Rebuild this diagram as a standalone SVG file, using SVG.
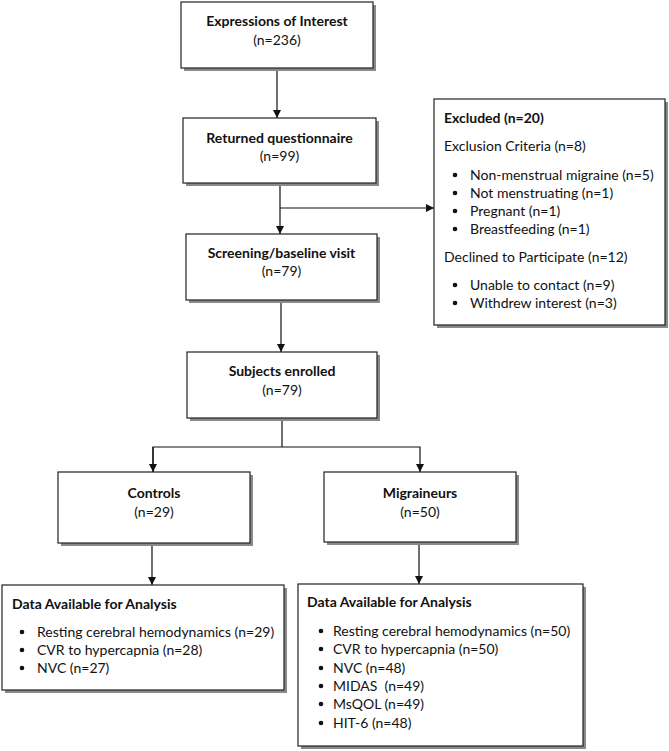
<svg xmlns="http://www.w3.org/2000/svg" width="669" height="751" viewBox="0 0 669 751">
<defs>
<marker id="arr" markerWidth="8" markerHeight="8" refX="8" refY="4" orient="auto" markerUnits="userSpaceOnUse">
<path d="M0,0 L8,4 L0,8 z" fill="#111"/>
</marker>
</defs>
<style>
.box{fill:#fff;stroke:#222;stroke-width:1.2}
.sh{fill:#8a8a8a}
text{font-family:Lato,"Open Sans","Liberation Sans",sans-serif;font-size:14px;fill:#111}
.b{font-weight:bold}
.c{text-anchor:middle}
.ln{fill:none;stroke:#111;stroke-width:1.2}
.dot{fill:#111}
</style>
<rect width="669" height="751" fill="#fff"/>
<g id="connectors">
<line class="ln" x1="277" y1="68" x2="277" y2="118" marker-end="url(#arr)"/>
<line class="ln" x1="280" y1="183" x2="280" y2="234" marker-end="url(#arr)"/>
<line class="ln" x1="280" y1="208" x2="434" y2="208" marker-end="url(#arr)"/>
<line class="ln" x1="281" y1="300" x2="281" y2="352" marker-end="url(#arr)"/>
<polyline class="ln" points="282,418 282,447"/>
<polyline class="ln" points="153,472 153,447 420,447 420,472" marker-end="url(#arr)"/>
<line class="ln" x1="153" y1="447" x2="153" y2="472" marker-end="url(#arr)"/>
<line class="ln" x1="152" y1="543" x2="152" y2="585" marker-end="url(#arr)"/>
<line class="ln" x1="419" y1="542" x2="419" y2="584" marker-end="url(#arr)"/>
</g>
<g id="n1">
<rect class="sh" x="184" y="5" width="192" height="66"/>
<rect class="box" x="181" y="2" width="192" height="66"/>
<text class="b c" x="277" y="26">Expressions of Interest</text>
<text class="c" x="277" y="45">(n=236)</text>
</g>
<g id="n2">
<rect class="sh" x="186" y="121" width="193" height="65"/>
<rect class="box" x="183" y="118" width="193" height="65"/>
<text class="b c" x="279.5" y="143">Returned questionnaire</text>
<text class="c" x="279.5" y="161">(n=99)</text>
</g>
<g id="n3">
<rect class="sh" x="189" y="237" width="191" height="66"/>
<rect class="box" x="186" y="234" width="191" height="66"/>
<text class="b c" x="281.5" y="258">Screening/baseline visit</text>
<text class="c" x="281.5" y="276">(n=79)</text>
</g>
<g id="excluded">
<rect class="sh" x="437" y="102" width="231" height="226"/>
<rect class="box" x="434" y="99" width="231" height="226"/>
<text class="b" x="444" y="123">Excluded (n=20)</text>
<text x="444" y="151">Exclusion Criteria (n=8)</text>
<circle class="dot" cx="455" cy="175" r="2.3"/>
<text x="470" y="180">Non-menstrual migraine (n=5)</text>
<circle class="dot" cx="455" cy="193" r="2.3"/>
<text x="470" y="198">Not menstruating (n=1)</text>
<circle class="dot" cx="455" cy="211" r="2.3"/>
<text x="470" y="216">Pregnant (n=1)</text>
<circle class="dot" cx="455" cy="229" r="2.3"/>
<text x="470" y="234">Breastfeeding (n=1)</text>
<text x="444" y="262">Declined to Participate (n=12)</text>
<circle class="dot" cx="455" cy="285" r="2.3"/>
<text x="470" y="290">Unable to contact (n=9)</text>
<circle class="dot" cx="455" cy="303" r="2.3"/>
<text x="470" y="308">Withdrew interest (n=3)</text>
</g>
<g id="n4">
<rect class="sh" x="190" y="355" width="190" height="66"/>
<rect class="box" x="187" y="352" width="190" height="66"/>
<text class="b c" x="282" y="376">Subjects enrolled</text>
<text class="c" x="282" y="395">(n=79)</text>
</g>
<g id="controls">
<rect class="sh" x="61" y="475" width="192" height="71"/>
<rect class="box" x="58" y="472" width="192" height="71"/>
<text class="b c" x="154" y="498">Controls</text>
<text class="c" x="154" y="517">(n=29)</text>
</g>
<g id="migraineurs">
<rect class="sh" x="327" y="475" width="192" height="70"/>
<rect class="box" x="324" y="472" width="192" height="70"/>
<text class="b c" x="420" y="498">Migraineurs</text>
<text class="c" x="420" y="517">(n=50)</text>
</g>
<g id="data-controls">
<rect class="sh" x="5" y="588" width="282" height="105"/>
<rect class="box" x="2" y="585" width="282" height="105"/>
<text class="b" x="12" y="609">Data Available for Analysis</text>
<circle class="dot" cx="22" cy="632" r="2.3"/>
<text x="37" y="637">Resting cerebral hemodynamics (n=29)</text>
<circle class="dot" cx="22" cy="650" r="2.3"/>
<text x="37" y="655">CVR to hypercapnia (n=28)</text>
<circle class="dot" cx="22" cy="668" r="2.3"/>
<text x="37" y="673">NVC (n=27)</text>
</g>
<g id="data-migraineurs">
<rect class="sh" x="301" y="587" width="285" height="162"/>
<rect class="box" x="298" y="584" width="285" height="162"/>
<text class="b" x="307" y="607">Data Available for Analysis</text>
<circle class="dot" cx="321" cy="631" r="2.3"/>
<text x="333" y="636">Resting cerebral hemodynamics (n=50)</text>
<circle class="dot" cx="321" cy="649" r="2.3"/>
<text x="333" y="654">CVR to hypercapnia (n=50)</text>
<circle class="dot" cx="321" cy="668" r="2.3"/>
<text x="333" y="673">NVC (n=48)</text>
<circle class="dot" cx="321" cy="686" r="2.3"/>
<text x="333" y="691" xml:space="preserve">MIDAS  (n=49)</text>
<circle class="dot" cx="321" cy="704" r="2.3"/>
<text x="333" y="709">MsQOL (n=49)</text>
<circle class="dot" cx="321" cy="723" r="2.3"/>
<text x="333" y="728">HIT-6 (n=48)</text>
</g>
</svg>
